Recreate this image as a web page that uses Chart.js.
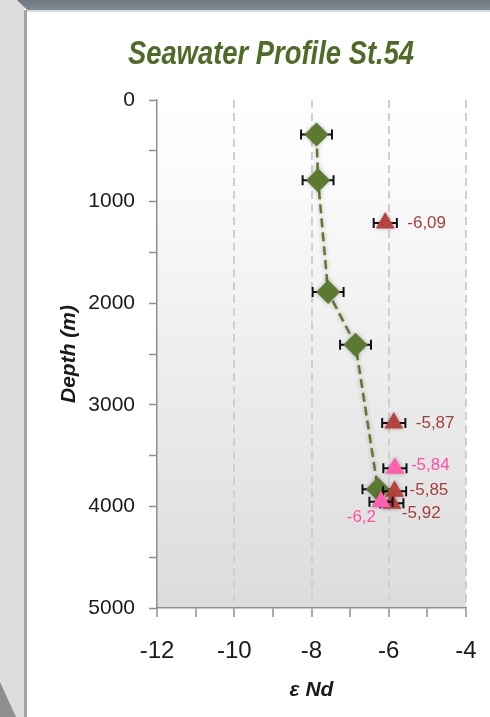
<!DOCTYPE html>
<html>
<head>
<meta charset="utf-8">
<title>Seawater Profile St.54</title>
<script src="https://cdn.jsdelivr.net/npm/chart.js@4"></script>
<style>
  html, body { margin: 0; padding: 0; background: #fff; }
  body { width: 490px; height: 717px; position: relative; overflow: hidden; }
  #leftStrip { position: absolute; left: 0; top: 0; width: 24px; height: 717px; background: #dcdcdc; }
  #leftEdge { position: absolute; left: 24px; top: 10px; width: 3px; height: 707px; background: #a4a4a4; }
  #topBand { position: absolute; left: 17px; top: 0; width: 473px; height: 10px;
    background: linear-gradient(#6c7780, #7f8a93);
    clip-path: polygon(0 0, 100% 0, 100% 100%, 10px 100%); }
  #topLine { position: absolute; left: 27px; top: 10px; width: 463px; height: 2px; background: #d8d8d8; }
  #corner { position: absolute; left: 0; top: 682px; width: 16px; height: 35px; background: #8e8e8e;
    clip-path: polygon(0 0, 100% 100%, 0 100%); }
  #title { position: absolute; left: 0; width: 542px; top: 34px; text-align: center;
    font: italic bold 33px/38px "Liberation Sans", Arial, sans-serif;
    transform: scaleX(0.83); transform-origin: 271px 50%;
    color: #4f6b28; margin: 0; }
  #wrap { position: absolute; left: 27px; top: 12px; width: 463px; height: 705px; }
</style>
</head>
<body>
<div id="leftStrip"></div>
<div id="leftEdge"></div>
<div id="topBand"></div>
<div id="topLine"></div>
<div id="corner"></div>
<div id="wrap"><canvas id="chart"></canvas></div>
<h1 id="title">Seawater Profile St.54</h1>
<script>
  // Seawater profile (green diamonds, dashed line)
  const depthGreen = [340, 790, 1890, 2410, 3830];
  const ndGreen = [-7.87, -7.83, -7.57, -6.86, -6.28];
  const errGreen = [0.4, 0.4, 0.4, 0.4, 0.4];

  // Red triangles
  const depthRed = [1210, 3180, 3850, 3970];
  const ndRed = [-6.09, -5.87, -5.85, -5.92];
  const errRed = [0.3, 0.3, 0.3, 0.3];
  const labelsRed = ['-6,09', '-5,87', '-5,85', '-5,92'];

  // Pink triangles
  const depthPink = [3625, 3955];
  const ndPink = [-5.84, -6.2];
  const errPink = [0.3, 0.3];
  const labelsPink = ['-5,84', '-6,2'];

  // Axis ticks
  const xMajorTicks = [-12, -10, -8, -6, -4];
  const yMajorTicks = [0, 1000, 2000, 3000, 4000, 5000];

  // label placement relative to the point (style only)
  const labelPosRed = [
    { dx: 22, dy: 0, align: 'left' },
    { dx: 22, dy: 0, align: 'left' },
    { dx: 15, dy: -1, align: 'left' },
    { dx: 10, dy: 10, align: 'left' }
  ];
  const labelPosPink = [
    { dx: 16, dy: -3, align: 'left' },
    { dx: -5, dy: 15, align: 'right' }
  ];

  const GREEN = '#5b7a2f';
  const RED = '#b5433f';
  const RED_TEXT = '#a33f3b';
  const PINK = '#ff5fae';
  const PINK_TEXT = '#ff4fa3';
  const AXIS = '#8f8f8f';
  const FONT = '"Liberation Sans", Arial, sans-serif';

  Chart.defaults.font.family = FONT;

  const toPoints = (xs, ys) => xs.map((v, i) => ({ x: v, y: ys[i] }));

  // plot area gradient
  const plotBackground = {
    id: 'plotBackground',
    beforeDraw(chart) {
      const { ctx, chartArea: a } = chart;
      const g = ctx.createLinearGradient(0, a.top, 0, a.bottom);
      g.addColorStop(0, '#ffffff');
      g.addColorStop(0.15, '#fbfbfb');
      g.addColorStop(1, '#dcdcdc');
      ctx.save();
      ctx.fillStyle = g;
      ctx.fillRect(a.left, a.top, a.right - a.left, a.bottom - a.top);
      ctx.restore();
    }
  };

  // horizontal error bars under each series, soft shadow on markers
  const errorBars = {
    id: 'errorBars',
    beforeDatasetDraw(chart, args) {
      const { ctx, scales: { x, y } } = chart;
      const ds = chart.data.datasets[args.index];
      if (ds.errX) {
        ctx.save();
        ctx.strokeStyle = '#111';
        ctx.lineWidth = 2;
        ds.data.forEach((p, i) => {
          const x0 = x.getPixelForValue(p.x - ds.errX[i]);
          const x1 = x.getPixelForValue(p.x + ds.errX[i]);
          const yy = y.getPixelForValue(p.y);
          ctx.beginPath();
          ctx.moveTo(x0, yy); ctx.lineTo(x1, yy);
          ctx.moveTo(x0, yy - 5); ctx.lineTo(x0, yy + 5);
          ctx.moveTo(x1, yy - 5); ctx.lineTo(x1, yy + 5);
          ctx.stroke();
        });
        ctx.restore();
      }
      ctx.save();
      ctx.shadowColor = 'rgba(0,0,0,0.3)';
      ctx.shadowBlur = 4;
    },
    afterDatasetDraw(chart) {
      chart.ctx.restore();
    }
  };

  const valueLabels = {
    id: 'valueLabels',
    afterDatasetsDraw(chart) {
      const { ctx } = chart;
      chart.data.datasets.forEach((ds, di) => {
        if (!ds.valueLabels) return;
        const meta = chart.getDatasetMeta(di);
        ctx.save();
        ctx.font = '17px ' + FONT;
        ctx.fillStyle = ds.labelColor;
        ctx.textBaseline = 'middle';
        meta.data.forEach((el, i) => {
          const pos = ds.labelPos[i];
          ctx.textAlign = pos.align;
          ctx.fillText(ds.valueLabels[i], el.x + pos.dx, el.y + pos.dy);
        });
        ctx.restore();
      });
    }
  };

  new Chart(document.getElementById('chart'), {
    type: 'scatter',
    data: {
      datasets: [
        {
          label: 'Seawater',
          data: toPoints(ndGreen, depthGreen),
          showLine: true,
          borderColor: GREEN,
          borderWidth: 2.5,
          borderDash: [9, 5],
          pointStyle: 'rectRot',
          pointRadius: 12,
          pointBackgroundColor: GREEN,
          pointBorderWidth: 0,
          errX: errGreen,
          order: 3
        },
        {
          label: 'Red',
          data: toPoints(ndRed, depthRed),
          pointStyle: 'triangle',
          pointRadius: 11,
          pointBackgroundColor: RED,
          pointBorderWidth: 0,
          errX: errRed,
          valueLabels: labelsRed,
          labelPos: labelPosRed,
          labelColor: RED_TEXT,
          order: 2
        },
        {
          label: 'Pink',
          data: toPoints(ndPink, depthPink),
          pointStyle: 'triangle',
          pointRadius: 11,
          pointBackgroundColor: PINK,
          pointBorderWidth: 0,
          errX: errPink,
          valueLabels: labelsPink,
          labelPos: labelPosPink,
          labelColor: PINK_TEXT,
          order: 1
        }
      ]
    },
    options: {
      responsive: true,
      maintainAspectRatio: false,
      animation: false,
      layout: { padding: { top: 88, right: 24, left: 0, bottom: 0 } },
      plugins: {
        legend: { display: false },
        tooltip: { enabled: false },
        title: { display: false }
      },
      scales: {
        x: {
          type: 'linear',
          min: -12,
          max: -4,
          ticks: {
            stepSize: 1,
            autoSkip: false,
            maxRotation: 0,
            padding: 20,
            color: '#1a1a1a',
            font: { size: 24 },
            callback: v => xMajorTicks.includes(v) ? String(v) : ''
          },
          grid: {
            color: c => (c.tick && c.tick.value > -12 && xMajorTicks.includes(c.tick.value)) ? '#cfcfcf' : 'rgba(0,0,0,0)',
            lineWidth: 2,
            tickColor: AXIS,
            tickWidth: 1.5,
            tickLength: 9
          },
          border: { color: AXIS, width: 1.5, dash: [8, 5] },
          title: {
            display: true,
            text: 'ε Nd',
            color: '#1a1a1a',
            font: { size: 21, weight: 'bold', style: 'italic' },
            padding: { top: 0, bottom: 14 }
          },
          afterFit: s => {
            s.height = 109;
            s.paddingLeft = 0;
            s.paddingRight = 0;
          }
        },
        y: {
          type: 'linear',
          reverse: true,
          min: 0,
          max: 5000,
          ticks: {
            stepSize: 500,
            autoSkip: false,
            padding: 14,
            color: '#1a1a1a',
            font: { size: 21 },
            callback: v => yMajorTicks.includes(v) ? String(v) : ''
          },
          grid: {
            drawOnChartArea: false,
            tickColor: AXIS,
            tickWidth: 1.5,
            tickLength: 8
          },
          border: { color: AXIS, width: 1.5 },
          title: {
            display: true,
            text: 'Depth (m)',
            color: '#1a1a1a',
            font: { size: 21, weight: 'bold', style: 'italic' },
            padding: { top: 30, bottom: 0 }
          },
          afterFit: s => { s.width = 130; }
        }
      }
    },
    plugins: [plotBackground, errorBars, valueLabels]
  });
</script>
</body>
</html>
